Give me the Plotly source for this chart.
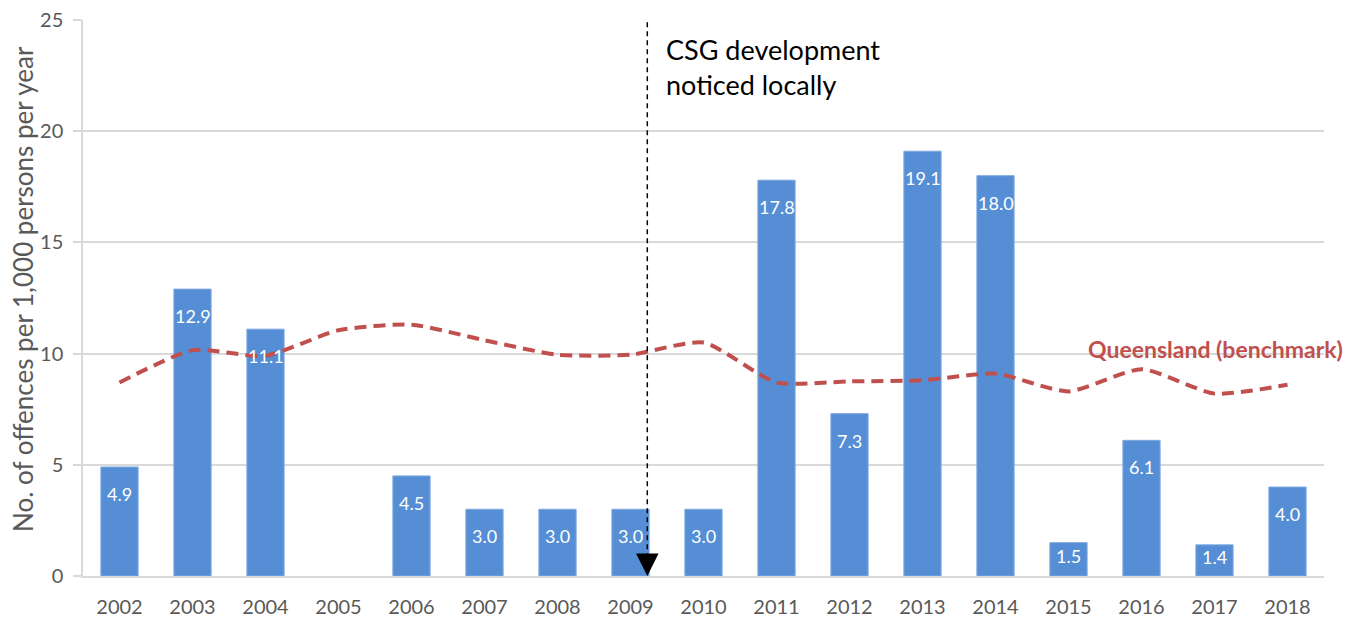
import plotly.graph_objects as go

years = [2002, 2003, 2004, 2005, 2006, 2007, 2008, 2009, 2010,
         2011, 2012, 2013, 2014, 2015, 2016, 2017, 2018]
local_rate = [4.9, 12.9, 11.1, None, 4.5, 3.0, 3.0, 3.0, 3.0,
              17.8, 7.3, 19.1, 18.0, 1.5, 6.1, 1.4, 4.0]
qld_rate = [8.7, 10.15, 9.9, 11.05, 11.3, 10.6, 9.95, 9.95, 10.5,
            8.7, 8.75, 8.8, 9.1, 8.3, 9.3, 8.2, 8.6]
y_ticks = [0, 5, 10, 15, 20, 25]
csg_year = 2009.23
csg_text = "CSG development<br>noticed locally"
qld_label = "Queensland (benchmark)"
y_title = "No. of offences per 1,000 persons per year"

blue = "#558ED5"
red = "#C0504D"
gray = "#595959"
grid = "#D9D9D9"
font = "Lato, Open Sans, sans-serif"

W, H = 1358, 619
M = dict(l=75, r=42, t=12, b=51)
Y_MAX = 25
px_per_unit = (H - M["t"] - M["b"]) / Y_MAX

fig = go.Figure()
fig.add_trace(go.Bar(
    x=years, y=local_rate,
    marker=dict(color=blue, line=dict(color="#7FA9E0", width=1)),
    width=0.51,
    hoverinfo="skip", showlegend=False,
))
fig.add_trace(go.Scatter(
    x=years, y=qld_rate, mode="lines",
    line=dict(color=red, width=4, dash="12px,7px", shape="spline", smoothing=0.6),
    hoverinfo="skip", showlegend=False,
))

for yr, v in zip(years, local_rate):
    if v is None:
        continue
    shift = min(27, v * px_per_unit * 0.4)
    fig.add_annotation(x=yr, y=v, xref="x", yref="y", text=f"{v:.1f}",
                       showarrow=False, yanchor="middle", yshift=-shift,
                       font=dict(size=18, color="white", family=font))

fig.add_shape(type="line", x0=csg_year, x1=csg_year, y0=24.9, y1=0.8,
              xref="x", yref="y", line=dict(color="black", width=1.5, dash="5px,4px"))
fig.add_annotation(x=csg_year, y=0, xref="x", yref="y", ax=0, ay=-20,
                   showarrow=True, arrowhead=2, arrowsize=3, arrowwidth=1.5,
                   arrowcolor="black", text="")
fig.add_annotation(x=2009.46, y=24.5, xref="x", yref="y", text=csg_text,
                   showarrow=False, xanchor="left", yanchor="top", align="left",
                   font=dict(size=27, color="black", family=font))
fig.add_annotation(x=2015.24, y=10.2, xref="x", yref="y", text=f"<b>{qld_label}</b>",
                   showarrow=False, xanchor="left", yanchor="middle",
                   font=dict(size=23, color=red, family=font))

# y-axis title
fig.add_annotation(x=0, y=0.5, xref="paper", yref="paper", text=y_title,
                   textangle=-90, showarrow=False, xanchor="center", yanchor="middle",
                   xshift=-60, yshift=9,
                   font=dict(size=26, color=gray, family=font))

fig.update_layout(
    width=W, height=H,
    margin=M,
    plot_bgcolor="white", paper_bgcolor="white",
    font=dict(family=font, color=gray),
    xaxis=dict(range=[2001.5, 2018.5], tickvals=years, ticktext=[str(y) for y in years],
               showgrid=False, showline=True, linecolor=grid, linewidth=1.5,
               ticks="", tickfont=dict(size=20, color=gray), zeroline=False,
               ticklabelstandoff=12, automargin=False, ticklabeloverflow="allow"),
    yaxis=dict(range=[0, Y_MAX], tickvals=y_ticks, showgrid=True, gridcolor=grid,
               gridwidth=1.5, zeroline=False, showline=True, linecolor=grid,
               linewidth=1.5, ticks="outside", ticklen=8, tickcolor=grid, tickwidth=1.5,
               tickfont=dict(size=20, color=gray),
               ticklabelstandoff=6, automargin=False, ticklabeloverflow="allow"),
)

fig.write_html("out.html")
